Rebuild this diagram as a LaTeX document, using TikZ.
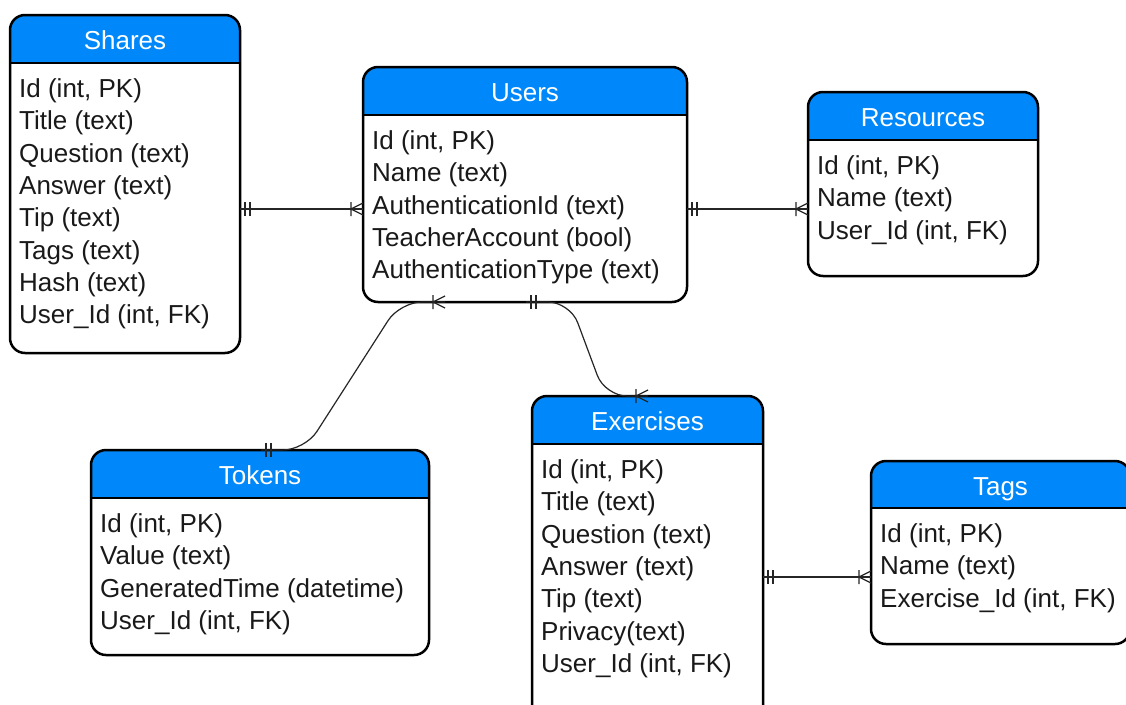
\documentclass[tikz,border=0pt]{standalone}
\usepackage{fontspec}
\setmainfont{Liberation Sans}
\definecolor{hdrblue}{RGB}{0,136,250}
\tikzset{
 tblbody/.style={fill=white, inner sep=0pt, outer sep=0pt, rectangle},
 tblborder/.style={draw=black, line width=2.5pt, rounded corners=15pt},
 hdr/.style={fill=hdrblue},
 hdrsep/.style={draw=black, line width=2pt},
 ttl/.style={text=white, font=\fontsize{26}{30}\selectfont, text height=18.6pt, text depth=0pt, inner sep=0pt},
 rowtxt/.style={text=black!90, font=\fontsize{26}{30}\selectfont, anchor=base west, inner sep=0pt},
 conn/.style={draw=black!85, line width=1.2pt},
 pics/twobars/.style={code={\draw[conn] (5,-7) -- (5,7) (10,-7) -- (10,7);}},
 pics/crowfoot/.style={code={\draw[conn] (0,-6) -- (12,0) -- (0,6) (12,-7) -- (12,7);}},
}
\newcommand\erbox[8]{%
 \node[tblbody, minimum width={#4-#2}, minimum height={#5-#3}, anchor=north west] (#1) at (#2,#3) {};
 \begin{scope}
 \clip (#2,#3) rectangle (#4,#6);
 \fill[hdr, rounded corners=15pt] (#1.north west) rectangle (#1.south east);
 \end{scope}
 \draw[hdrsep] (#2,#6) -- (#4,#6);
 \node[ttl] (#1-title) at ({(#2+#4)/2},{(#3+#6)/2+1.5}) {#7};
 \foreach \t [count=\i] in {#8} \node[rowtxt] (#1-row\i) at (#2+9,{#6+34.5+(\i-1)*32.3}) {\t};
 \draw[tblborder] (#1.north west) rectangle (#1.south east);
}
\begin{document}
\begin{tikzpicture}[x=1pt,y=-1pt]
\useasboundingbox (0,0) rectangle (1126,704);
\fill[white] (0,0) rectangle (1126,704);

\erbox{shares}{10}{15}{240}{353}{63}{Shares}{{Id (int, PK)},{Title (text)},{Question (text)},{Answer (text)},{Tip (text)},{Tags (text)},{Hash (text)},{User\_Id (int, FK)}}
\erbox{users}{363}{67}{687}{302}{115}{Users}{{Id (int, PK)},{Name (text)},{AuthenticationId (text)},{TeacherAccount (bool)},{AuthenticationType (text)}}
\erbox{resources}{808}{92}{1038}{276}{140}{Resources}{{Id (int, PK)},{Name (text)},{User\_Id (int, FK)}}
\erbox{tokens}{91}{450}{429}{655}{498}{Tokens}{{Id (int, PK)},{Value (text)},{GeneratedTime (datetime)},{User\_Id (int, FK)}}
\erbox{exercises}{532}{396}{763}{720}{444}{Exercises}{{Id (int, PK)},{Title (text)},{Question (text)},{Answer (text)},{Tip (text)},{Privacy(text)},{User\_Id (int, FK)}}
\erbox{tags}{871}{461}{1130}{644}{508}{Tags}{{Id (int, PK)},{Name (text)},{Exercise\_Id (int, FK)}}

% Shares -- Users
\coordinate (c1s) at (shares.east |- 0,209);
\coordinate (c1u) at (users.west |- 0,209);
\draw[conn] (c1s) -- (c1u);
\pic at (c1s) {twobars};
\pic[rotate=180] at (c1u) {crowfoot};

% Users -- Resources
\coordinate (c2u) at (users.east |- 0,209);
\coordinate (c2r) at (resources.west |- 0,209);
\draw[conn] (c2u) -- (c2r);
\pic at (c2u) {twobars};
\pic[rotate=180] at (c2r) {crowfoot};

% Exercises -- Tags
\coordinate (c3e) at (exercises.east |- 0,577);
\coordinate (c3t) at (tags.west |- 0,577);
\draw[conn] (c3e) -- (c3t);
\pic at (c3e) {twobars};
\pic[rotate=180] at (c3t) {crowfoot};

% Users -- Tokens
\coordinate (c4u) at (users.south -| 445,0);
\coordinate (c4t) at (tokens.north -| 261,0);
\draw[conn, rounded corners=22pt] (c4u) -- (users.south -| 400,0) -- (tokens.north -| 305,0) -- (c4t);
\pic[rotate=180] at (c4u) {crowfoot};
\pic at (c4t) {twobars};

% Users -- Exercises
\coordinate (c5u) at (users.south -| 526,0);
\coordinate (c5e) at (exercises.north -| 648,0);
\draw[conn, rounded corners=22pt] (c5u) -- (users.south -| 570,0) -- (exercises.north -| 605,0) -- (c5e);
\pic at (c5u) {twobars};
\pic[rotate=180] at (c5e) {crowfoot};
\end{tikzpicture}
\end{document}
